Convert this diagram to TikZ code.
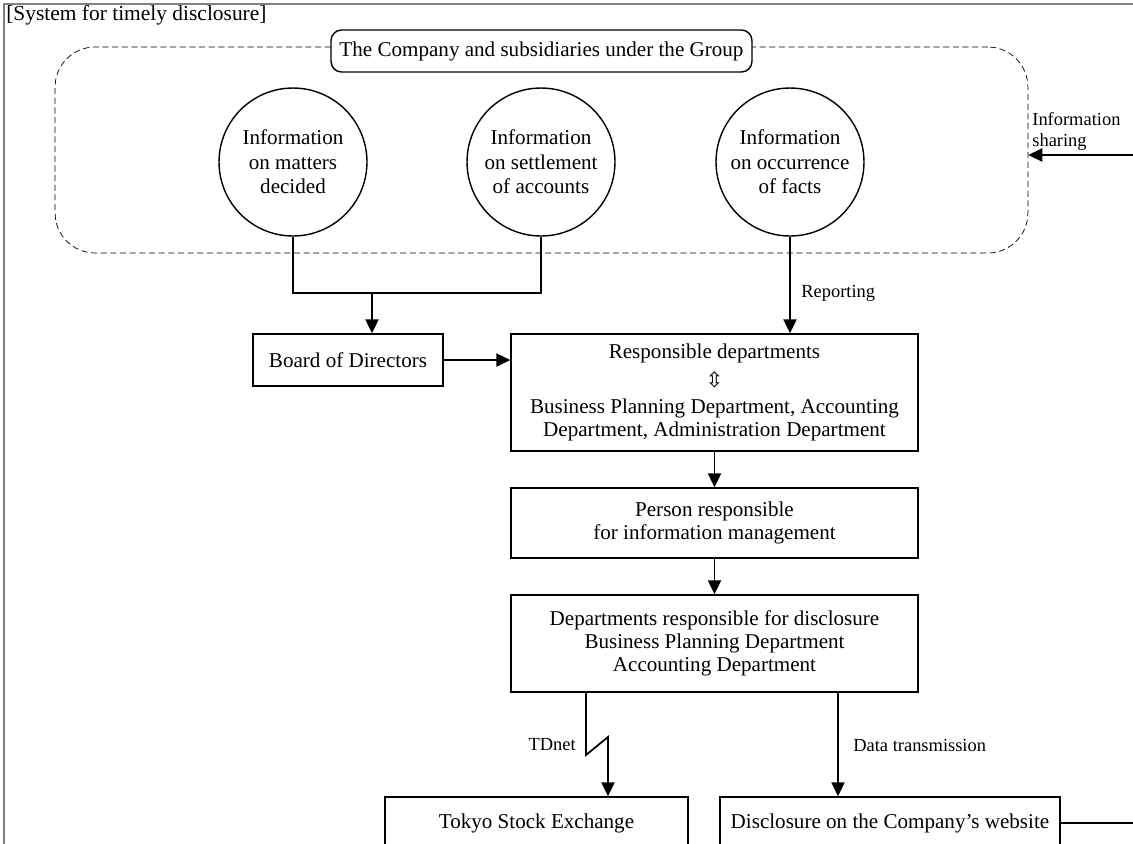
\documentclass[tikz,border=0pt]{standalone}
\usepackage{fontspec}
\setmainfont{Liberation Serif}
\newfontfamily\symfont{DejaVu Sans}
\usepackage{tikz}
\usetikzlibrary{arrows.meta}

\begin{document}
\begin{tikzpicture}[x=0.02cm, y=-0.02cm, font=\fontsize{12}{13}\selectfont,
	info node/.style={circle, draw, thick, minimum size=2.96cm, inner sep=0pt, align=center, font=\fontsize{12}{14}\selectfont},
	box node/.style={rectangle, draw, thick, inner sep=0pt, align=center, minimum width=8.14cm},
	label node/.style={font=\fontsize{10.5}{12}\selectfont, inner sep=0pt},
	conn/.style={line width=1pt},
	arr/.style={line width=1pt, -{Triangle[width=7.5pt,length=8pt]}}]

			\useasboundingbox (0,0) rectangle (1133,843);
			\clip (0,0) rectangle (1133,843);

			% frame and caption
			\draw[gray, line width=1pt] (4,860) -- (4,4) -- (1150,4);
			\node[anchor=north west, inner sep=0pt, font=\fontsize{12.2}{13}\selectfont] (caption) at (6,5) {[System for timely disclosure]};

			% the Group
			\node[draw, dash pattern=on 3.5pt off 2pt, rounded corners=0.8cm, minimum width=19.46cm, minimum height=4.12cm] (group) at (541.5,150) {};
			\node[draw, thick, rounded corners=6pt, fill=white, minimum width=8.42cm, minimum height=0.84cm] (title) at (541.5,51) {The Company and subsidiaries under the Group};

			\node[info node] (decided) at (293,162) {Information\\on matters\\decided};
			\node[info node] (settle) at (541,162) {Information\\on settlement\\of accounts};
			\node[info node] (facts) at (790,162) {Information\\on occurrence\\of facts};

			% boxes
			\node[box node, minimum width=3.8cm, minimum height=1.04cm] (board) at (348,360) {Board of Directors};
			\node[box node, minimum height=2.34cm] (resp) at (714.5,392.5) {Responsible departments\\[3pt]{\symfont\fontsize{12}{12}\selectfont ⇳}\\[2pt]Business Planning Department, Accounting\\Department, Administration Department};
			\node[box node, minimum height=1.4cm] (person) at (714.5,523) {Person responsible\\for information management};
			\node[box node, minimum height=1.94cm] (discl) at (714.5,643.5) {Departments responsible for disclosure\\Business Planning Department\\Accounting Department};
			\node[box node, minimum width=6.06cm, minimum height=1.04cm] (tse) at (536.5,823) {Tokyo Stock Exchange};
			\node[box node, minimum width=6.8cm, minimum height=1.04cm] (web) at (890,823) {Disclosure on the Company’s website};

			% decided and settlement go to the board
			\coordinate (merge) at (372,293);
			\draw[conn] (decided.south) |- (merge) -| (settle.south);
			\draw[arr] (merge) -- (board.north -| merge);
			\draw[arr] (board.east) -- (board.east -| resp.west);

			% occurrence of facts
			\draw[arr] (facts.south) -- (facts.south |- resp.north);
			\node[label node, anchor=west] (reporting) at (801,293) {Reporting};

			\draw[arr] (resp.south) -- (person.north);
			\draw[arr] (person.south) -- (discl.north);

			% TDnet
			\coordinate (zig a) at (586,755);
			\coordinate (zig b) at (608,737);
			\draw[arr] (discl.south -| zig a) -- (zig a) -- (zig b) -- (tse.north -| zig b);
			\node[label node, anchor=east] (tdnet) at (576,745) {TDnet};

			% data transmission
			\coordinate (data x) at (838,700);
			\draw[arr] (discl.south -| data x) -- (web.north -| data x);
			\node[label node, anchor=west] (datatx) at (853,745) {Data transmission};

			% website and information sharing
			\coordinate (web out) at (1150,823);
			\draw[conn] (web.east) -- (web out);
			\coordinate (share in) at (1150,155);
			\draw[arr] (share in) -- (share in -| group.east);
			\node[label node, anchor=north west, align=left] (sharing) at (1032,112) {Information\\sharing};

		\end{tikzpicture}
\end{document}
